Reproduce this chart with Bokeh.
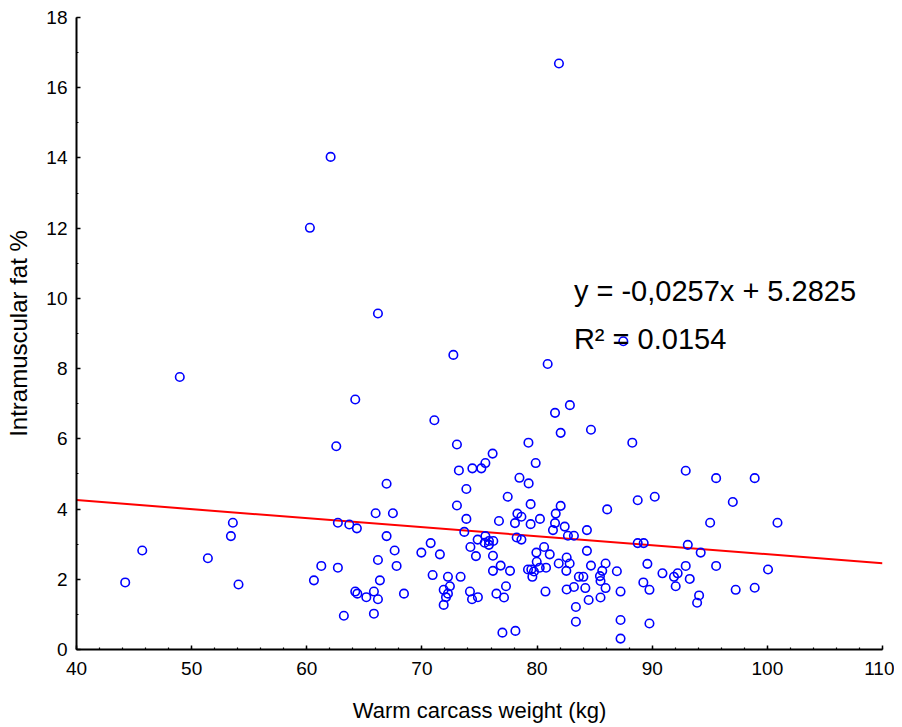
from bokeh.plotting import figure
from bokeh.models import Label, Range1d, FixedTicker
from bokeh.embed import file_html
from bokeh.resources import INLINE

# Warm carcass weight (kg)
weight = [44.23, 45.71, 48.97, 51.41, 53.41, 53.58, 54.07, 60.27, 62.07, 60.62,
          61.26, 62.56, 62.70, 62.70, 63.22, 63.69, 64.21, 64.21, 64.35, 64.39,
          65.17, 65.83, 65.83, 65.98, 66.18, 66.18, 66.18, 66.35, 66.93, 66.93,
          67.48, 67.63, 67.80, 68.44, 69.95, 70.76, 70.93, 71.08, 71.56, 71.89,
          71.89, 72.09, 72.26, 72.26, 72.43, 72.73, 73.04, 73.04, 73.21, 73.36,
          73.68, 73.86, 73.86, 74.21, 74.17, 74.35, 74.38, 74.69, 74.84, 74.86,
          75.16, 75.51, 75.51, 75.45, 75.82, 75.82, 76.20, 76.14, 76.17, 76.17,
          76.47, 76.69, 76.84, 76.99, 77.13, 77.30, 77.45, 77.65, 78.08, 78.12,
          78.23, 78.29, 78.47, 78.64, 78.64, 79.21, 79.25, 79.27, 79.44, 79.44,
          79.50, 79.59, 79.73, 79.88, 79.94, 79.97, 80.25, 80.23, 80.61, 80.73,
          80.78, 80.92, 81.10, 81.38, 81.56, 81.56, 81.62, 81.88, 81.90, 82.05,
          82.05, 82.40, 82.54, 82.57, 82.57, 82.68, 82.83, 82.85, 83.20, 83.20,
          83.37, 83.37, 83.63, 84.02, 84.19, 84.33, 84.33, 84.48, 84.68, 84.68,
          85.46, 85.51, 85.51, 85.66, 85.95, 85.95, 86.09, 86.93, 87.25, 87.25,
          87.25, 87.49, 88.27, 88.74, 88.74, 89.23, 89.26, 89.58, 89.76, 89.76,
          90.22, 90.89, 91.89, 92.21, 92.04, 92.91, 92.91, 93.09, 93.26, 93.90,
          94.07, 94.21, 95.03, 95.55, 95.55, 97.00, 97.25, 98.90, 98.90, 100.06,
          100.88]

# Intramuscular fat %
fat = [1.91, 2.82, 7.76, 2.60, 3.23, 3.61, 1.85, 12.01, 14.03, 1.97,
       2.38, 5.79, 3.61, 2.33, 0.96, 3.56, 7.12, 1.65, 3.45, 1.59,
       1.49, 1.65, 1.02, 3.88, 9.57, 2.55, 1.43, 1.97, 4.72, 3.23,
       3.88, 2.82, 2.38, 1.59, 2.76, 3.03, 2.12, 6.53, 2.71, 1.70,
       1.27, 1.49, 2.07, 1.59, 1.80, 8.39, 5.84, 4.10, 5.10, 2.07,
       3.35, 4.57, 3.72, 2.92, 1.65, 1.43, 5.16, 2.66, 3.13, 1.49,
       5.16, 5.31, 3.23, 3.04, 3.09, 2.98, 3.09, 5.58, 2.67, 2.24,
       1.59, 3.66, 2.39, 0.48, 1.48, 1.80, 4.35, 2.24, 3.60, 0.53,
       3.19, 3.87, 4.89, 3.78, 3.13, 2.28, 5.89, 4.73, 4.14, 3.57,
       2.28, 2.07, 2.22, 5.31, 2.76, 2.50, 3.72, 2.33, 2.92, 1.65,
       2.33, 8.13, 2.71, 3.40, 6.74, 3.60, 3.87, 2.45, 16.69, 6.17,
       4.09, 3.50, 2.24, 2.62, 1.71, 3.24, 2.45, 6.96, 3.24, 1.78,
       1.21, 0.79, 2.07, 2.07, 1.75, 3.40, 2.81, 1.41, 6.26, 2.39,
       2.09, 1.95, 1.48, 2.24, 2.45, 1.75, 3.99, 2.23, 1.65, 0.84,
       0.31, 8.78, 5.89, 4.25, 3.03, 1.91, 3.03, 2.44, 1.70, 0.74,
       4.35, 2.17, 2.07, 2.17, 1.80, 5.09, 2.38, 2.98, 2.01, 1.33,
       1.54, 2.76, 3.61, 4.88, 2.38, 4.20, 1.70, 4.88, 1.76, 2.28,
       3.61]

# Regression line (as printed on the chart)
slope = -0.0257
intercept = 5.2825
line_x = [40, 110]
line_y = [intercept + slope * v for v in line_x]

eq_text = "y = -0,0257x + 5.2825"
r2_text = "R\u00b2 = 0.0154"

x_ticks = [40, 50, 60, 70, 80, 90, 100, 110]
y_ticks = [0, 2, 4, 6, 8, 10, 12, 14, 16, 18]

FONT = "Liberation Sans"

p = figure(width=894, height=727, output_backend="svg", toolbar_location=None,
           x_range=Range1d(40, 110), y_range=Range1d(0, 18),
           min_border_left=76, min_border_right=12, min_border_top=17,
           min_border_bottom=78)
p.outline_line_color = None
p.xgrid.visible = False
p.ygrid.visible = False
p.background_fill_color = "white"
p.border_fill_color = "white"

p.line(line_x, line_y, line_color="#ff0000", line_width=2)
p.scatter(weight, fat, marker="circle", size=8.5, fill_color=None,
          line_color="#0000ff", line_width=1.6)

p.xaxis.ticker = FixedTicker(ticks=x_ticks, minor_ticks=list(range(40, 111, 2)))
p.yaxis.ticker = FixedTicker(ticks=y_ticks, minor_ticks=list(range(0, 19, 1)))

for ax in (p.xaxis, p.yaxis):
    ax.axis_line_width = 2
    ax.axis_line_color = "black"
    ax.major_tick_in = 4
    ax.major_tick_out = 0
    ax.minor_tick_in = 2
    ax.minor_tick_out = 0
    ax.major_tick_line_width = 1.5
    ax.minor_tick_line_width = 1.2
    ax.major_label_text_font = FONT
    ax.major_label_text_font_size = "19px"
    ax.major_label_text_color = "black"
    ax.axis_label_text_font = FONT
    ax.axis_label_text_font_style = "normal"
    ax.axis_label_text_color = "black"

p.xaxis.axis_label = "Warm carcass weight (kg)"
p.xaxis.axis_label_text_font_size = "22px"
p.xaxis.major_label_standoff = 12
p.xaxis.axis_label_standoff = 20

p.yaxis.axis_label = "Intramuscular fat %"
p.yaxis.axis_label_text_font_size = "24px"
p.yaxis.major_label_standoff = 9
p.yaxis.axis_label_standoff = 11

p.add_layout(Label(x=83.2, y=10.22, text=eq_text, text_font=FONT,
                   text_font_size="29px", text_baseline="middle",
                   text_color="black"))
p.add_layout(Label(x=83.2, y=8.83, text=r2_text, text_font=FONT,
                   text_font_size="29px", text_baseline="middle",
                   text_color="black"))

open("out.html", "w").write(file_html(p, INLINE))
